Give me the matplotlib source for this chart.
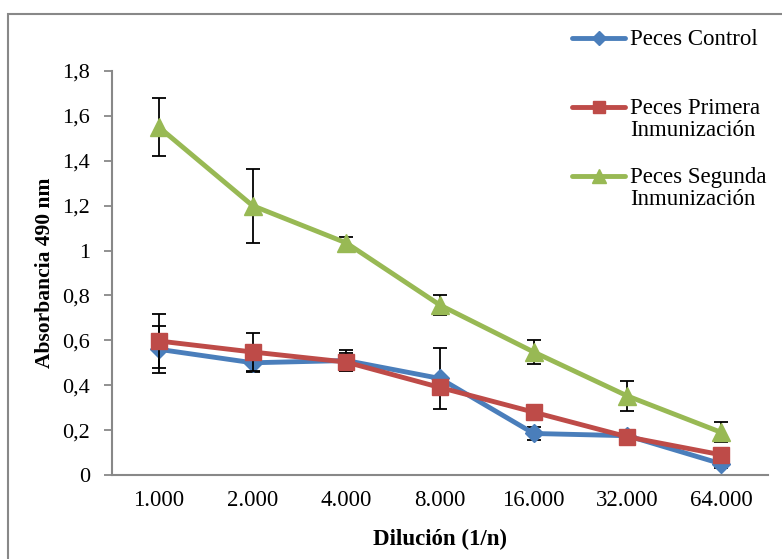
import numpy as np
import matplotlib.pyplot as plt
from matplotlib.lines import Line2D
from matplotlib.patches import Rectangle

plt.rcParams['font.family'] = ['Liberation Serif', 'DejaVu Serif']

diluciones = ['1.000', '2.000', '4.000', '8.000', '16.000', '32.000', '64.000']
control = [0.56, 0.50, 0.51, 0.43, 0.185, 0.175, 0.05]
control_err = [0.105, 0.04, 0.045, 0.135, 0.03, 0.02, 0.02]
primera = [0.597, 0.548, 0.503, 0.39, 0.28, 0.17, 0.09]
primera_err = [0.12, 0.085, 0.04, 0.03, 0.02, 0.02, 0.02]
segunda = [1.55, 1.20, 1.034, 0.757, 0.548, 0.352, 0.19]
segunda_err = [0.13, 0.165, 0.025, 0.045, 0.055, 0.065, 0.045]

fig = plt.figure(figsize=(7.82, 5.59), dpi=100)
ax = fig.add_axes([112 / 782, 84 / 559, 656 / 782, 404 / 559])

x = np.arange(len(diluciones))
series = [
    (control, control_err, '#4A7EBB', 'D', 9, 'Peces Control'),
    (primera, primera_err, '#BE4B48', 's', 11, 'Peces Primera\nInmunización'),
    (segunda, segunda_err, '#98B954', '^', 13, 'Peces Segunda\nInmunización'),
]
for vals, err, col, mk, ms, lab in series:
    ax.errorbar(x, vals, yerr=err, fmt='none', ecolor='black',
                elinewidth=1.3, capsize=5, capthick=1.3)
    ax.plot(x, vals, color=col, lw=3.5, marker=mk, ms=ms,
            markeredgecolor=col, label=lab)

ax.set_xlim(-0.5, 6.5)
ax.set_ylim(0, 1.8)
ax.set_yticks(np.arange(0, 1.81, 0.2))
ax.set_yticklabels(['0', '0,2', '0,4', '0,6', '0,8', '1', '1,2', '1,4', '1,6', '1,8'])
ax.set_xticks(x)
ax.set_xticklabels(diluciones)
ax.tick_params(axis='x', length=0, pad=11, labelsize=16.5)
ax.tick_params(axis='y', length=6, color='#888888', width=1.3, pad=10, labelsize=16)

for s in ['top', 'right']:
    ax.spines[s].set_visible(False)
for s in ['left', 'bottom']:
    ax.spines[s].set_color('#888888')
    ax.spines[s].set_linewidth(1.5)

ax.set_xlabel('Dilución (1/n)', fontsize=16.5, fontweight='bold', labelpad=13)
ax.set_ylabel('Absorbancia 490 nm', fontsize=15.5, fontweight='bold', labelpad=5)

# legend drawn by hand so the key lines up with the first text line
legend_y = [38, 107, 176]
for (vals, err, col, mk, ms, lab), ly in zip(series, legend_y):
    yf = 1 - ly / 559
    fig.add_artist(Line2D([572 / 782, 625 / 782], [yf, yf], color=col, lw=3.5,
                          solid_capstyle='round', transform=fig.transFigure))
    fig.add_artist(Line2D([598.5 / 782], [yf], color=col, marker=mk, ms=ms * 0.8,
                          markeredgecolor=col, transform=fig.transFigure))
    fig.text(630 / 782, yf + 9 / 559, lab, ha='left', va='top', fontsize=16.5,
             linespacing=1.05)

# outer chart border
fig.patches.append(Rectangle((8 / 782, -0.1), 1.2, 1 - 14 / 559 + 0.1,
                             transform=fig.transFigure, fill=False,
                             edgecolor='#888888', lw=1.5))

fig.savefig('out.png', dpi=100)
